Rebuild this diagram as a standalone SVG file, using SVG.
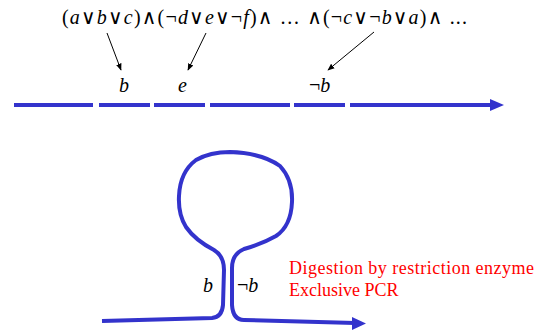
<svg xmlns="http://www.w3.org/2000/svg" width="537" height="335" viewBox="0 0 537 335">
<defs>
<style>
.i{font-style:italic}
.blue{fill:none;stroke:#3333cc;stroke-width:4}
.ptr{stroke:#000;stroke-width:1;fill:none;marker-end:url(#ah)}
.red{font-size:18px;fill:#ff0000}
</style>
<marker id="ah" viewBox="0 0 10 10" refX="9" refY="5" markerWidth="7" markerHeight="7" orient="auto" markerUnits="userSpaceOnUse"><path d="M0,1 L10,5 L0,9 z" fill="#000"/></marker>
</defs>
<g font-family="Liberation Serif, DejaVu Serif, serif">
<g id="formula">
<text x="62" y="24" font-size="20" textLength="405">(<tspan class="i">a</tspan>∨<tspan class="i">b</tspan>∨<tspan class="i">c</tspan>)∧(¬<tspan class="i">d</tspan>∨<tspan class="i">e</tspan>∨¬<tspan class="i">f</tspan>)∧ … ∧(¬<tspan class="i">c</tspan>∨¬<tspan class="i">b</tspan>∨<tspan class="i">a</tspan>)∧ ...</text>
</g>
<g id="connectors">
<line class="ptr" x1="107" y1="33" x2="121" y2="70"/>
<line class="ptr" x1="206" y1="33" x2="188" y2="70"/>
<line class="ptr" x1="374" y1="32" x2="328" y2="70"/>
</g>
<g id="labels">
<text class="i" x="119" y="92" font-size="20">b</text>
<text class="i" x="178" y="92" font-size="20">e</text>
<text x="309" y="92" font-size="20">¬<tspan class="i">b</tspan></text>
</g>
<g id="strand">
<line class="blue" x1="14" y1="105" x2="93" y2="105"/>
<line class="blue" x1="99" y1="105" x2="150" y2="105"/>
<line class="blue" x1="154" y1="105" x2="205" y2="105"/>
<line class="blue" x1="210" y1="105" x2="290" y2="105"/>
<line class="blue" x1="294" y1="105" x2="345" y2="105"/>
<line class="blue" x1="350" y1="105" x2="492" y2="105"/>
<path d="M490,99 L504,105 L490,111 z" fill="#3333cc"/>
</g>
<g id="hairpin">
<path class="blue" stroke-width="3" d="M102,321 L212,318 Q222,317 223,305 L224,270 Q224,256 214,250 Q195,240 186,227 Q178,214 179,196 Q180,172 196,160 Q210,152 230,152 Q262,153 280,166 Q293,180 292,202 Q291,226 276,236 Q262,244 244,249 Q232,254 232,268 L232,305 Q233,320 244,320 L355,323"/>
<path d="M352,317 L366,323.5 L352,330 z" fill="#3333cc"/>
<text class="i" x="203" y="292" font-size="20">b</text>
<text x="237" y="292" font-size="20">¬<tspan class="i">b</tspan></text>
</g>
<g id="notes">
<text class="red" x="289" y="274" textLength="245">Digestion by restriction enzyme</text>
<text class="red" x="289" y="296">Exclusive PCR</text>
</g>
</g>
</svg>
